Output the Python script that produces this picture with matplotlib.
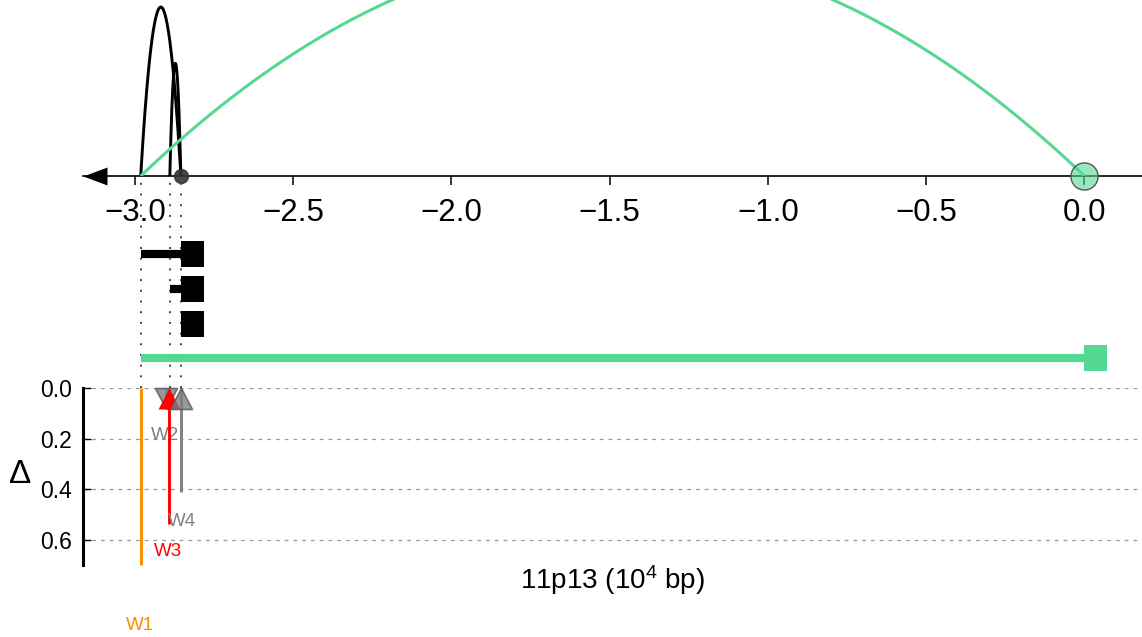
import numpy as np
import matplotlib
matplotlib.use("Agg")
import matplotlib.pyplot as plt
from matplotlib.path import Path

plt.rcParams['font.family'] = ['Liberation Sans', 'DejaVu Sans']
plt.rcParams['mathtext.fontset'] = 'custom'
plt.rcParams['mathtext.rm'] = 'Liberation Sans'
plt.rcParams['mathtext.default'] = 'regular'

# ---------------- data ----------------
GREEN = '#55d992'
# anchor positions (10^4 bp)
site_pos = [-2.982, -2.890, -2.855, 0.0]
# arcs: start, end, height, colour
arc_start = [-2.982, -2.890, -2.982]
arc_end = [-2.855, -2.855, 0.0]
arc_height = [0.96, 0.64, 1.28]
arc_color = ['black', 'black', GREEN]
# interval rows
row_start = [-2.982, -2.890, -2.855, -2.982]
row_end = [-2.855, -2.855, -2.855, 0.0]
row_color = ['black', 'black', 'black', GREEN]
# dotted guide positions
guide_x = [-2.982, -2.890, -2.855]
# bottom delta panel
w_labels = ['W1', 'W2', 'W3', 'W4']
w_x = [-2.982, -2.903, -2.891, -2.855]
w_delta = [0.70, 0.07, 0.537, 0.41]
w_marker = [None, 'v', '^', '^']
w_color = ['#ff8c00', '#808080', '#ff0000', '#808080']
w_label_x = [-2.983, -2.905, -2.895, -2.853]
w_label_y = [0.937, 0.186, 0.647, 0.529]
x_ticks = [-3.0, -2.5, -2.0, -1.5, -1.0, -0.5, 0.0]
delta_ticks = [0.0, 0.2, 0.4, 0.6]

# ---------------- layout ----------------
W, H = 1142, 637
fig = plt.figure(figsize=(W / 100, H / 100), dpi=100)
XL = (-3.1643, 0.1817)

def fax(x0, y0, x1, y1):
    return [x0 / W, 1 - y1 / H, (x1 - x0) / W, (y1 - y0) / H]

def px_marker(verts):
    verts = list(verts) + [verts[0]]
    return Path(verts, closed=True)

# top arc panel
ax_top = fig.add_axes(fax(83, 0, 1142, 176))
ax_top.set_xlim(*XL)
ax_top.set_ylim(0, 1)
ax_top.patch.set_visible(False)
for s in ['left', 'right', 'top']:
    ax_top.spines[s].set_visible(False)
ax_top.spines['bottom'].set_linewidth(1.2)
ax_top.set_yticks([])
ax_top.set_xticks(x_ticks)
ax_top.tick_params(axis='x', direction='out', length=6.5, width=1.1,
                   labelsize=22.5, pad=9.5)
t = np.linspace(0, 1, 400)
for a, b, h, c in zip(arc_start, arc_end, arc_height, arc_color):
    lw = 2.2 if c == GREEN else 2.1
    ax_top.plot(a + (b - a) * t, 4 * h * t * (1 - t), color=c, lw=lw,
                solid_capstyle='butt', zorder=3)
# left arrow head at the axis start
arrow = px_marker([(0, 0), (24, 9), (24, -9)])
ax_top.plot([0], [0], marker=arrow, markersize=34.56, color='black',
            markeredgewidth=0, transform=ax_top.transAxes, clip_on=False, zorder=5)
ax_top.plot([site_pos[2]], [0], marker='o', markersize=10, color='#333333',
            alpha=0.9, clip_on=False, zorder=6)
ax_top.plot([site_pos[3]], [0], marker='o', markersize=19.5,
            markerfacecolor=(0.333, 0.851, 0.573, 0.6), markeredgecolor='#555555',
            markeredgewidth=1.0, clip_on=False, zorder=6)

# middle interval panel
ax_mid = fig.add_axes(fax(83, 176, 1142, 388))
ax_mid.set_xlim(*XL)
ax_mid.set_ylim(3.851, -2.241)
ax_mid.axis('off')
for gx in guide_x:
    ax_mid.axvline(gx, ymin=0, ymax=0.981, color='#444444', lw=1.4,
                   linestyle=(0, (1, 4.5)), zorder=1)
square = px_marker([(0, -13), (23, -13), (23, 13), (0, 13)])
for i, (a, b, c) in enumerate(zip(row_start, row_end, row_color)):
    ax_mid.plot([a, b], [i, i], color=c, lw=5.9, solid_capstyle='butt', zorder=3)
    ax_mid.plot([b], [i], marker=square, markersize=33.12, color=c,
                markeredgewidth=0, clip_on=False, zorder=4)

# bottom delta panel
ax_bot = fig.add_axes(fax(83, 388, 1142, 565.3))
ax_bot.set_xlim(*XL)
ax_bot.set_ylim(0.7, 0.0)
ax_bot.patch.set_visible(False)
for s in ['right', 'top', 'bottom']:
    ax_bot.spines[s].set_visible(False)
ax_bot.spines['left'].set_linewidth(2.2)
ax_bot.spines['left'].set_bounds(0.0, 0.7)
ax_bot.set_xticks([])
ax_bot.set_yticks(delta_ticks)
ax_bot.set_yticklabels([f'{v:.1f}' for v in delta_ticks])
ax_bot.tick_params(axis='y', direction='in', length=6, width=1.0,
                   labelsize=16.5, pad=8)
ax_bot.yaxis.grid(True, color='#9a9a9a', lw=0.9, linestyle=(0, (3, 4)))
ax_bot.set_axisbelow(True)

tri_up = px_marker([(0, 0), (-11, -21), (11, -21)])
tri_dn = px_marker([(-11, 0), (11, 0), (0, -21)])
for lab, x, d, m, c, lx, ly in zip(w_labels, w_x, w_delta, w_marker, w_color,
                                   w_label_x, w_label_y):
    ax_bot.plot([x, x], [0, d], color=c, lw=2.1, solid_capstyle='butt', zorder=3,
                clip_on=False)
    if m is not None:
        mk = tri_up if m == '^' else tri_dn
        if c == '#ff0000':
            ax_bot.plot([x], [0], marker=mk, markersize=30.24, color=c,
                        markeredgewidth=0, zorder=5, clip_on=False)
        else:
            ax_bot.plot([x], [0], marker=mk, markersize=30.24,
                        markerfacecolor=(0.5, 0.5, 0.5, 0.8),
                        markeredgecolor=(0.35, 0.35, 0.35, 0.8),
                        markeredgewidth=1.2, zorder=5, clip_on=False)
    ax_bot.text(lx, ly, lab, color=c, fontsize=13.5, ha='center', va='center',
                clip_on=False)

ax_bot.text(0.5, -0.1337, '11p13 (10$^{4}$ bp)', transform=ax_bot.transAxes,
            ha='center', va='baseline', fontsize=20)
ax_bot.text(-0.0595, 0.464, 'Δ', transform=ax_bot.transAxes,
            ha='center', va='baseline', fontsize=24)

fig.savefig('out.png', dpi=100)
